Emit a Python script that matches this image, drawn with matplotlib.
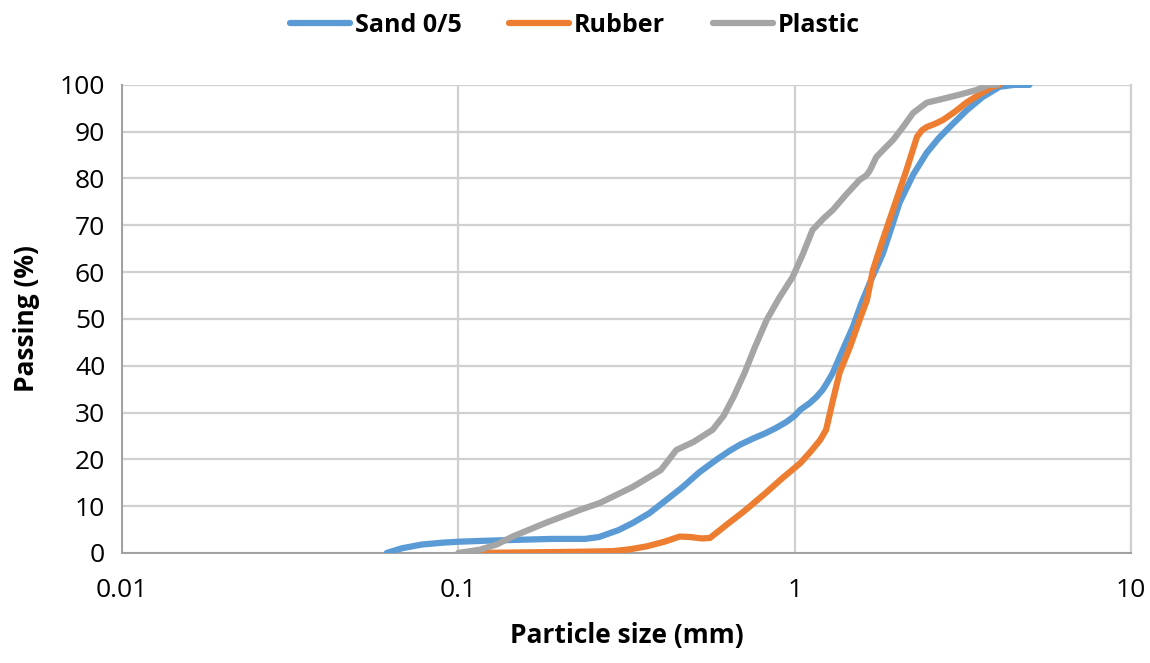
import matplotlib
matplotlib.use("Agg")
import matplotlib.pyplot as plt
from matplotlib.ticker import FixedLocator, FixedFormatter, NullLocator

plt.rcParams['font.family'] = ['Open Sans', 'DejaVu Sans']

# particle size (mm) / passing (%)
sand_x = [0.0613, 0.068, 0.078, 0.09, 0.1, 0.12, 0.15, 0.19, 0.238, 0.262, 0.30, 0.33,
          0.37, 0.41, 0.465, 0.52, 0.585, 0.64, 0.687, 0.75, 0.82, 0.88, 0.946, 1.0,
          1.04, 1.108, 1.16, 1.21, 1.25, 1.297, 1.39, 1.49, 1.58, 1.68, 1.83, 1.94,
          2.05, 2.25, 2.47, 2.68, 2.89, 3.24, 3.62, 4.07, 4.5, 4.99]
sand_y = [0.0, 1.0, 1.8, 2.2, 2.4, 2.6, 2.8, 3.0, 3.0, 3.4, 4.9, 6.4,
          8.5, 11.0, 14.1, 17.2, 19.9, 21.8, 23.1, 24.4, 25.6, 26.7, 28.0, 29.3,
          30.6, 32.0, 33.3, 34.8, 36.4, 38.4, 43.4, 48.3, 53.4, 58.0, 64.0, 69.5,
          74.8, 80.8, 85.5, 88.6, 91.0, 94.5, 97.4, 99.6, 100.0, 100.0]

rubber_x = [0.116, 0.15, 0.2, 0.25, 0.29, 0.325, 0.363, 0.41, 0.455, 0.49, 0.53, 0.56,
            0.60, 0.64, 0.71, 0.82, 0.92, 1.04, 1.12, 1.19, 1.24, 1.27, 1.30, 1.36,
            1.46, 1.56, 1.64, 1.71, 1.83, 1.96, 2.15, 2.31, 2.39, 2.47, 2.6,
            2.76, 3.0, 3.24, 3.55, 3.87, 4.07]
rubber_y = [0.0, 0.1, 0.2, 0.3, 0.4, 0.8, 1.4, 2.4, 3.5, 3.4, 3.1, 3.2,
            4.9, 6.5, 9.0, 12.8, 16.0, 19.2, 21.8, 24.1, 26.3, 29.5, 32.7, 38.5,
            44.0, 49.8, 54.0, 60.5, 67.0, 73.3, 81.8, 88.9, 90.3, 91.0, 91.6,
            92.5, 94.3, 96.2, 98.0, 99.6, 100.0]

plastic_x = [0.1, 0.116, 0.13, 0.145, 0.183, 0.23, 0.264, 0.33, 0.40, 0.445, 0.50, 0.57,
             0.615, 0.66, 0.71, 0.76, 0.826, 0.90, 0.987, 1.06, 1.13, 1.22, 1.30,
             1.42, 1.56, 1.63, 1.67, 1.75, 1.85, 1.96, 2.1, 2.25, 2.47, 2.75, 3.09,
             3.47, 3.78, 4.0]
plastic_y = [0.0, 0.7, 1.8, 3.5, 6.5, 9.2, 10.7, 14.1, 17.7, 22.0, 23.7, 26.3,
             29.3, 33.5, 38.5, 43.8, 49.8, 54.5, 59.0, 64.0, 69.0, 71.5, 73.3,
             76.5, 79.7, 80.6, 81.6, 84.6, 86.4, 88.2, 91.0, 94.0, 96.2, 97.0, 97.9,
             98.9, 100.0, 100.0]

x_ticks = [0.01, 0.1, 1, 10]
x_tick_labels = ['0.01', '0.1', '1', '10']
y_ticks = list(range(0, 101, 10))

fig = plt.figure(figsize=(11.5, 6.63), dpi=100)
ax = fig.add_axes([0.106, 0.166, 0.8775, 0.706])

lw = 4.5
style = dict(lw=lw, solid_capstyle='round', solid_joinstyle='round')
ax.plot(sand_x, sand_y, color='#5B9BD5', label='Sand 0/5', zorder=3, **style)
ax.plot(rubber_x, rubber_y, color='#ED7D31', label='Rubber', zorder=4, **style)
ax.plot(plastic_x, plastic_y, color='#A5A5A5', label='Plastic', zorder=5, **style)

ax.set_xscale('log')
ax.set_xlim(0.01, 10)
ax.set_ylim(0, 100)
ax.xaxis.set_major_locator(FixedLocator(x_ticks))
ax.xaxis.set_major_formatter(FixedFormatter(x_tick_labels))
ax.xaxis.set_minor_locator(NullLocator())
ax.set_yticks(y_ticks)

ax.grid(True, color='#D0D0D0', lw=1.6)
ax.set_axisbelow(True)
ax.spines['top'].set_visible(False)
ax.spines['right'].set_color('#D0D0D0')
ax.spines['right'].set_linewidth(1.6)
for s in ['left', 'bottom']:
    ax.spines[s].set_color('#A0A0A0')
    ax.spines[s].set_linewidth(1.4)
ax.tick_params(length=0, labelsize=19, colors='#000000')
ax.tick_params(axis='y', pad=12)
ax.tick_params(axis='x', pad=18)

ax.set_xlabel('Particle size (mm)', fontsize=19, fontweight='bold', labelpad=14)
ax.set_ylabel('Passing (%)', fontsize=19, fontweight='bold', labelpad=14)

fig.legend(loc='upper center', bbox_to_anchor=(0.5, 1.015), ncol=3, frameon=False,
           prop={'weight': 'bold', 'size': 18}, handlelength=2.4,
           handletextpad=0.2, columnspacing=1.9)

fig.savefig('out.png', dpi=100)
